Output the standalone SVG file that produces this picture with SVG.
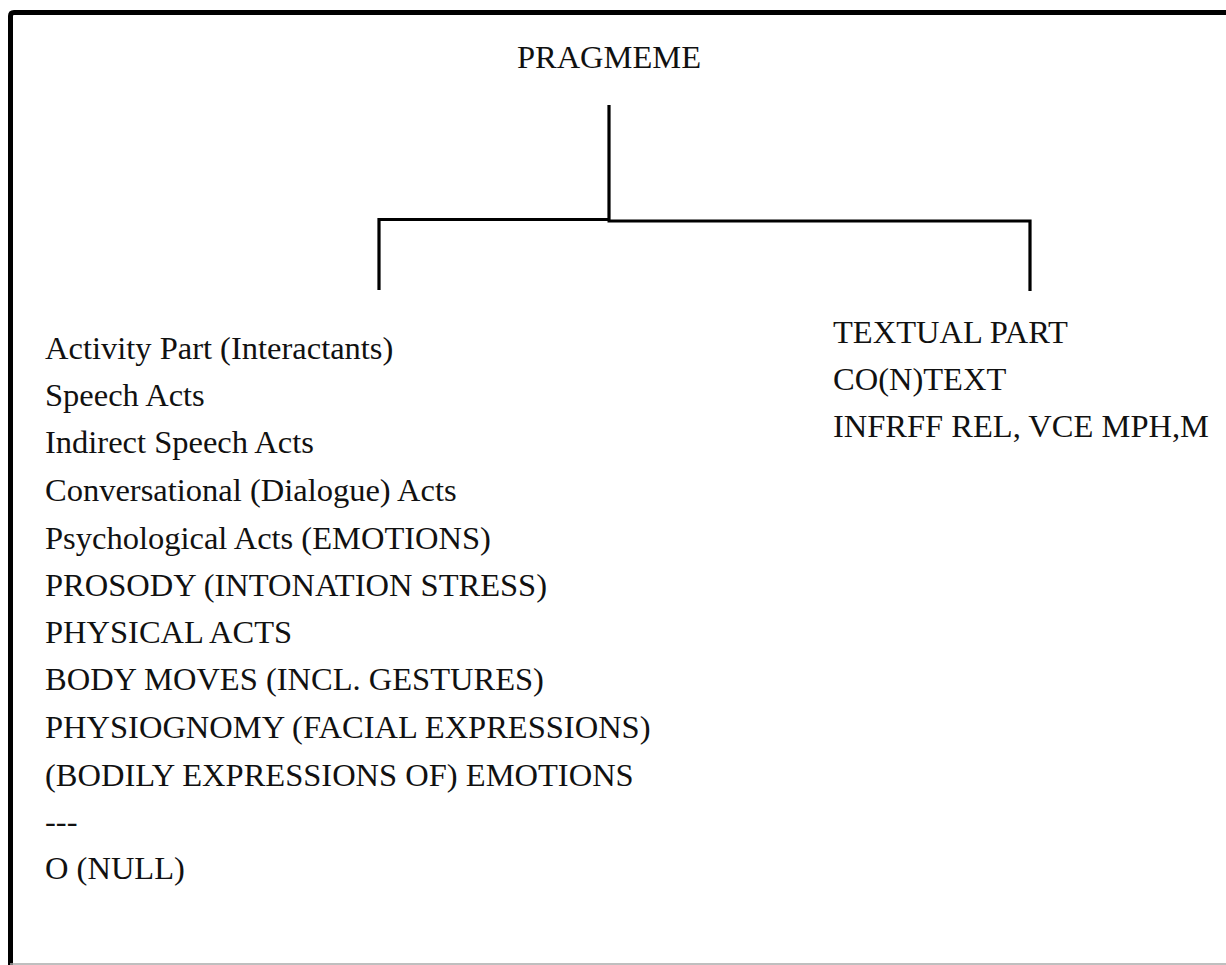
<svg xmlns="http://www.w3.org/2000/svg" width="1226" height="965" viewBox="0 0 1226 965">
<style>
.t{font-family:'Liberation Serif','Times New Roman',serif;font-size:32.5px;fill:#111;}
.c{fill:none;stroke:#000;stroke-width:3.2;stroke-linecap:butt;stroke-linejoin:miter;}
</style>
<rect x="0" y="0" width="1226" height="965" fill="#fff"/>
<path d="M10.5,965 V16 Q10.5,12.5 14,12.5 H1226" fill="none" stroke="#000" stroke-width="5"/>
<line x1="10" y1="964" x2="1226" y2="964" stroke="#aaa" stroke-width="1.5"/>
<g id="pragmeme"><text class="t" x="609" y="68" text-anchor="middle" font-family="Liberation Serif">PRAGMEME</text></g>
<g id="connectors">
<path class="c" d="M609,105 V221"/>
<path class="c" d="M379,290 V219.5 H609"/>
<path class="c" d="M607.5,221 H1030 V291"/>
</g>
<g id="activity-part" font-family="Liberation Serif">
<text class="t" x="45" y="359">Activity Part (Interactants)</text>
<text class="t" x="45" y="406">Speech Acts</text>
<text class="t" x="45" y="453">Indirect Speech Acts</text>
<text class="t" x="45" y="501">Conversational (Dialogue) Acts</text>
<text class="t" x="45" y="549">Psychological Acts (EMOTIONS)</text>
<text class="t" x="45" y="596">PROSODY (INTONATION STRESS)</text>
<text class="t" x="45" y="643">PHYSICAL ACTS</text>
<text class="t" x="45" y="690">BODY MOVES (INCL. GESTURES)</text>
<text class="t" x="45" y="738">PHYSIOGNOMY (FACIAL EXPRESSIONS)</text>
<text class="t" x="45" y="786">(BODILY EXPRESSIONS OF) EMOTIONS</text>
<text class="t" x="45" y="832">---</text>
<text class="t" x="45" y="879">O (NULL)</text>
</g>
<g id="textual-part" font-family="Liberation Serif">
<text class="t" x="833" y="343">TEXTUAL  PART</text>
<text class="t" x="833" y="390">CO(N)TEXT</text>
<text class="t" x="833" y="437">INFRFF REL, VCE MPH,M</text>
</g>
</svg>
